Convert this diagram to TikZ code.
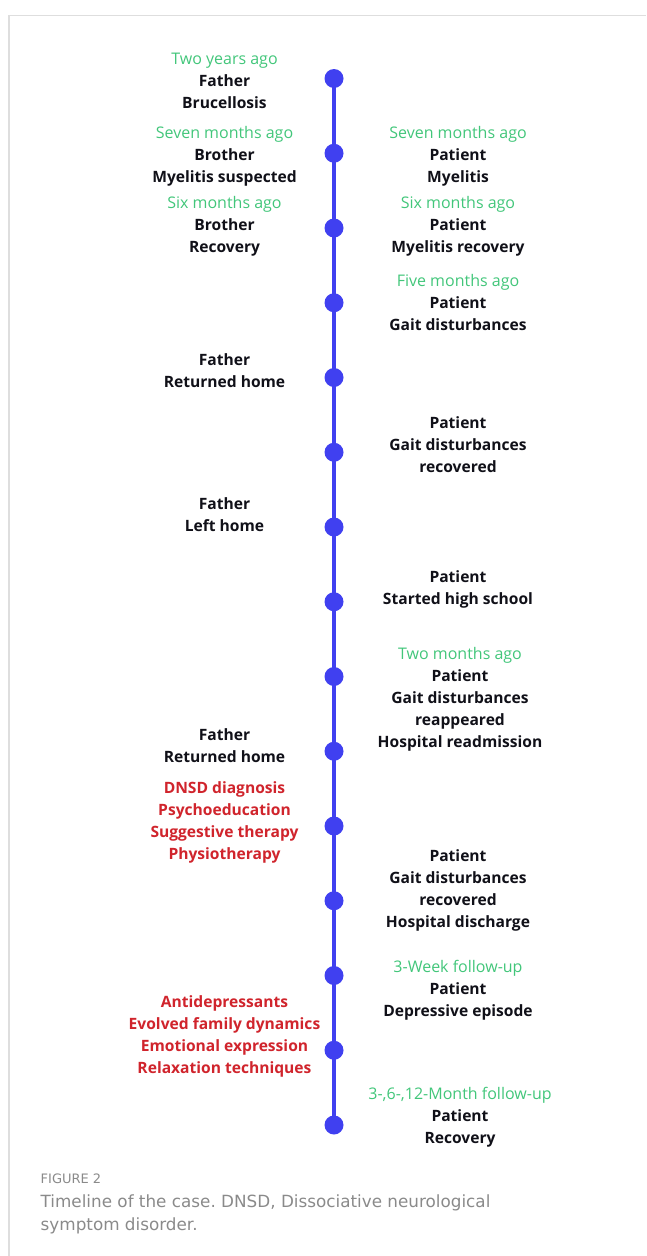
\documentclass[tikz,border=0pt]{standalone}
\usepackage{fontspec}
\setmainfont{Open Sans}
\newfontfamily\captionfont{DejaVu Sans}
\frenchspacing
\definecolor{lineblue}{RGB}{64,64,240}
\definecolor{timegreen}{RGB}{66,198,122}
\definecolor{therapyred}{RGB}{208,36,44}
\definecolor{eventblack}{RGB}{16,16,24}
\definecolor{captiongrey}{RGB}{138,138,138}
\definecolor{framegrey}{RGB}{222,222,222}
\newcommand{\when}[1]{{\mdseries\fontsize{16}{22}\selectfont\color{timegreen}#1}}
\begin{document}
\begin{tikzpicture}[x=1pt, y=-1pt,
        dot/.style={circle, fill=lineblue, inner sep=0pt, minimum size=19pt},
        axis/.style={draw=lineblue, line width=4.5pt},
        event/.style={align=center, anchor=north, inner sep=0pt, text=eventblack,
                      font=\fontsize{15.6}{22}\selectfont\bfseries},
        therapy/.style={event, text=therapyred},
        caption/.style={anchor=base west, inner sep=0pt, text=captiongrey},
        frame/.style={draw=framegrey, line width=1.2pt}
    ]
    \useasboundingbox (0,0) rectangle (646,1256);
    \draw[frame] (9,1256) -- (9,15.5) -- (646,15.5);

    % Draw the time axis with its fifteen points
    \foreach \i in {1,...,15}
        \node[dot] (d\i) at (334, {78.5+74.75*(\i-1)}) {};
    \draw[axis] (d1.center) -- (d15.center);

    % Family events on the left
    \node[event] (brucellosis) at (224.5,53) {\when{Two years ago}\\Father\\Brucellosis};
    \node[event] (brothermyelitis) at (224.5,126) {\when{Seven months ago}\\Brother\\Myelitis suspected};
    \node[event] (brotherrecovery) at (224.5,196) {\when{Six months ago}\\Brother\\Recovery};
    \node[event] (fatherreturn) at (224.5,353) {Father\\Returned home};
    \node[event] (fatherleft) at (224.5,497) {Father\\Left home};
    \node[event] (fatherback) at (224.5,728) {Father\\Returned home};
    \node[therapy] (diagnosis) at (224.5,781) {DNSD diagnosis\\Psychoeducation\\Suggestive therapy\\Physiotherapy};
    \node[therapy] (treatment) at (224.5,995) {Antidepressants\\Evolved family dynamics\\Emotional expression\\Relaxation techniques};

    % Patient events on the right
    \node[event] (myelitis) at (458,126) {\when{Seven months ago}\\Patient\\Myelitis};
    \node[event] (myelitisrecovery) at (458,196) {\when{Six months ago}\\Patient\\Myelitis recovery};
    \node[event] (gait) at (458,274) {\when{Five months ago}\\Patient\\Gait disturbances};
    \node[event] (gaitrecovered) at (458,416) {Patient\\Gait disturbances\\recovered};
    \node[event] (highschool) at (458,570) {Patient\\Started high school};
    \node[event] (readmission) at (460,647) {\when{Two months ago}\\Patient\\Gait disturbances\\reappeared\\Hospital readmission};
    \node[event] (discharge) at (458,849) {Patient\\Gait disturbances\\recovered\\Hospital discharge};
    \node[event] (depression) at (458,960) {\when{3-Week follow-up}\\Patient\\Depressive episode};
    \node[event] (recovery) at (460,1087) {\when{3-,6-,12-Month follow-up}\\Patient\\Recovery};

    % Caption
    \node[caption, font=\captionfont\fontsize{13}{15}\selectfont] (figlabel) at (40.5,1183) {FIGURE 2};
    \node[caption, font=\captionfont\fontsize{16.8}{23}\selectfont] (captionone) at (40.5,1207) {Timeline of the case. DNSD, Dissociative neurological};
    \node[caption, font=\captionfont\fontsize{16.8}{23}\selectfont] (captiontwo) at (40.5,1230) {symptom disorder.};
\end{tikzpicture}
\end{document}
